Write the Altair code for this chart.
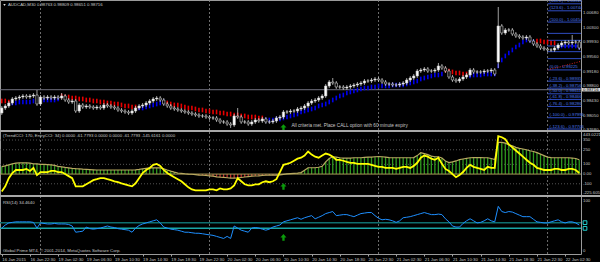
import altair as alt
import pandas as pd

# ---------------- data ----------------
x_labels = ["16 Jan 2015", "16 Jan 22:30", "19 Jan 02:30", "19 Jan 06:30", "19 Jan 10:30",
            "19 Jan 14:30", "19 Jan 18:30", "19 Jan 22:30", "20 Jan 02:30", "20 Jan 06:30",
            "20 Jan 10:30", "20 Jan 14:30", "20 Jan 18:30", "20 Jan 22:30", "21 Jan 02:30",
            "21 Jan 06:30", "21 Jan 10:30", "21 Jan 14:30", "21 Jan 18:30", "21 Jan 22:30",
            "22 Jan 02:30"]

closes = [
    0.98246, 0.98298, 0.98375, 0.98478, 0.98503, 0.98529, 0.98555, 0.98529, 0.98555, 0.98580,
    0.98349, 0.98529, 0.98503, 0.98529, 0.98503, 0.98529, 0.98503, 0.98555, 0.98452, 0.98401,
    0.98426, 0.98169, 0.98324, 0.98272, 0.98298, 0.98272, 0.98246, 0.98272, 0.98246, 0.98324,
    0.98298, 0.98272, 0.98246, 0.98195, 0.98169, 0.98144, 0.98118, 0.98169, 0.98246, 0.98298,
    0.98324, 0.98375, 0.98426, 0.98478, 0.98503, 0.98452, 0.98349, 0.98298, 0.98246, 0.98221,
    0.98195, 0.98169, 0.98144, 0.98118, 0.98092, 0.98067, 0.98041, 0.98041, 0.98015, 0.97990,
    0.97990, 0.97938, 0.97887, 0.97887, 0.97836, 0.97810, 0.98041, 0.98015, 0.97887, 0.97887,
    0.97836, 0.97887, 0.97938, 0.97913, 0.97964, 0.97887, 0.97887, 0.97913, 0.97990, 0.98015,
    0.98144, 0.98144, 0.98169, 0.98169, 0.98221, 0.98246, 0.98298, 0.98375, 0.98426, 0.98452,
    0.98503, 0.98555, 0.98812, 0.98915, 0.98889, 0.98786, 0.98786, 0.98760, 0.98786, 0.98812,
    0.98837, 0.98863, 0.98889, 0.98940, 0.98940, 0.98966, 0.98992, 0.98966, 0.98915, 0.98863,
    0.98863, 0.98837, 0.98837, 0.98863, 0.98889, 0.98966, 0.99017, 0.99069, 0.99197, 0.99223,
    0.99249, 0.99197, 0.99197, 0.99223, 0.99326, 0.99274, 0.99197, 0.99043, 0.98966, 0.98940,
    0.98992, 0.99043, 0.99095, 0.99223, 0.99172, 0.99172, 0.99172, 0.99197, 0.99197, 0.99223,
    0.99120, 1.00354, 1.00174, 1.00251, 1.00251, 1.00148, 1.00097, 1.00071, 1.00045, 1.00071,
    0.99968, 0.99891, 0.99840, 0.99788, 0.99763, 0.99737, 0.99737, 0.99788, 0.99865, 0.99917,
    0.99943, 0.99917, 0.99943, 0.99943, 0.99788]
first_open = 0.98118
open_override = {141: 0.99429}
high_override = {10: 0.98709, 17: 0.98632, 67: 0.98246, 94: 0.99017, 124: 0.99403,
                 141: 1.00842, 162: 1.00122}
low_override = {65: 0.97733, 141: 0.99274}

dots = [
    0.98426, 0.98426, 0.98401,
    0.98375, 0.98375, 0.98401, 0.98401, 0.98401, 0.98401, 0.98426, 0.98426, 0.98426, 0.98452,
    0.98452, 0.98452, 0.98452, 0.98478,
    0.98555, 0.98529, 0.98529, 0.98503, 0.98503, 0.98478, 0.98478, 0.98452, 0.98452, 0.98426,
    0.98426, 0.98401, 0.98401, 0.98375, 0.98375, 0.98349, 0.98349, 0.98324, 0.98298, 0.98298,
    0.98272, 0.98272,
    0.98246, 0.98246, 0.98272, 0.98298, 0.98324, 0.98349, 0.98375, 0.98401,
    0.98375, 0.98349, 0.98324, 0.98324, 0.98298, 0.98272, 0.98246, 0.98246, 0.98221, 0.98195,
    0.98195, 0.98169, 0.98169, 0.98144, 0.98144, 0.98118, 0.98118, 0.98092, 0.98092, 0.98067,
    0.98067, 0.98041, 0.98041, 0.98015, 0.98015, 0.98015, 0.97990, 0.97990,
    0.97938, 0.97938, 0.97938, 0.97964, 0.97964, 0.97990, 0.98015, 0.98041, 0.98067, 0.98092,
    0.98144, 0.98169, 0.98195, 0.98221, 0.98246, 0.98298, 0.98324, 0.98349, 0.98401, 0.98452,
    0.98503, 0.98555, 0.98580, 0.98632, 0.98658, 0.98683, 0.98709, 0.98735, 0.98760, 0.98760,
    0.98786, 0.98786, 0.98812, 0.98812, 0.98812, 0.98812, 0.98837, 0.98837, 0.98837, 0.98837,
    0.98863, 0.98889, 0.98915, 0.98940, 0.98992, 0.99017, 0.99043, 0.99069, 0.99095, 0.99095,
    0.99120,
    0.99223, 0.99197, 0.99172, 0.99146, 0.99146, 0.99120, 0.99120,
    0.99069, 0.99095, 0.99095, 0.99095, 0.99120, 0.99120, 0.99120, 0.99120,
    0.99326, 0.99480, 0.99583, 0.99660, 0.99737, 0.99814, 0.99865, 0.99943, 0.99994, 0.99994,
    0.99943,
    0.99968, 0.99968, 0.99943, 0.99943, 0.99917, 0.99917,
    0.99814, 0.99840, 0.99840, 0.99840, 0.99840, 0.99840, 0.99814]
dot_segments = [(0, "red"), (3, "blue"), (17, "red"), (39, "blue"), (47, "red"),
                (75, "blue"), (126, "red"), (133, "blue"), (152, "red"), (158, "blue")]

cci_trend = [
    77, 85, 95, 105, 112, 115, 116, 116, 112, 105,
    105, 100, 100, 98, 95, 90, 80, 74, 68, 63,
    58, 55, 53, 50, 48, 46, 44, 42, 42, 42,
    42, 42, 42, 42, 42, 42, 42, 42, 44, 48,
    53, 58, 63, 63, 63, 63, 55, 42, 30, 20,
    11, 7, 3, 0, -2, -5, -10, -12, -15, -18,
    -22, -28, -32, -35, -38, -42, -42, -40, -35, -30,
    -26, -22, -20, -18, -15, -12, -11, -11, -11, -8,
    -3, 2, 5, 8, 10, 15, 40, 65, 65, 65,
    70, 80, 125, 160, 178, 175, 168, 165, 165, 165,
    168, 168, 168, 172, 175, 175, 178, 180, 178, 175,
    170, 168, 168, 168, 168, 168, 168, 170, 190, 220,
    210, 200, 185, 178, 178, 165, 135, 118, 126, 135,
    148, 155, 162, 168, 170, 170, 170, 168, 168, 160,
    150, 325, 325, 318, 300, 290, 275, 265, 258, 250,
    240, 232, 220, 205, 190, 175, 170, 168, 168, 168,
    168, 168, 165, 160, 147]

cci_entry = [
    -179, -126, -42, 11, 42, 42, 42, 53, 32, 63,
    -11, 21, 21, 21, 32, 32, 21, 21, 0, -21,
    -42, -126, -126, -126, -105, -84, -63, -53, -42, -42,
    -53, -63, -74, -84, -95, -105, -116, -126, -95, -42,
    11, 42, 63, 95, 105, 84, 42, 11, -11, -32,
    -53, -74, -105, -137, -158, -168, -168, -168, -168, -158,
    -158, -168, -147, -158, -158, -147, -116, -42, -74, -105,
    -116, -116, -105, -105, -84, -74, -84, -74, -53, 21,
    95, 105, 116, 137, 158, 168, 190, 232, 200, 179,
    168, 190, 211, 200, 179, 147, 147, 137, 126, 116,
    116, 105, 105, 105, 105, 95, 84, 74, 74, 63,
    63, 63, 53, 63, 74, 74, 63, 84, 116, 168,
    190, 179, 158, 147, 168, 105, 53, 32, 0, -32,
    -11, 21, 63, 95, 74, 63, 53, 42, 74, 63,
    63, 390, 379, 358, 305, 274, 242, 211, 179, 147,
    116, 95, 63, 53, 42, 42, 42, 53, 53, 42,
    42, 53, 53, 42, 11]

rsi = [
    45.5, 50.9, 54.5, 55.5, 56.4, 56.4, 56.4, 56.4, 56.4, 55.5,
    45.5, 54.5, 53.6, 52.7, 52.7, 53.6, 52.7, 52.7, 52.7, 51.8,
    49.1, 38.2, 39.1, 40.0, 47.3, 44.5, 43.6, 44.5, 45.5, 47.3,
    49.1, 47.3, 46.4, 44.5, 43.6, 42.7, 41.8, 38.2, 45.5, 50.0,
    52.7, 54.5, 56.4, 58.2, 60.0, 54.5, 47.3, 45.5, 43.6, 42.7,
    41.8, 40.0, 38.2, 38.2, 37.3, 36.4, 36.4, 35.5, 34.5, 33.6,
    32.7, 30.9, 29.1, 27.3, 30.9, 27.3, 49.1, 45.5, 41.8, 40.0,
    38.2, 45.5, 46.4, 45.5, 43.6, 41.8, 43.6, 47.3, 49.1, 50.9,
    56.4, 58.2, 60.0, 61.8, 63.6, 60.9, 63.6, 65.5, 67.3, 61.8,
    64.5, 67.3, 70.9, 72.7, 74.5, 67.3, 68.2, 69.1, 69.1, 67.3,
    65.5, 68.2, 70.9, 71.8, 72.7, 72.7, 67.3, 62.7, 60.0, 60.9,
    60.0, 58.2, 55.5, 58.2, 63.6, 64.5, 65.5, 67.3, 69.1, 70.9,
    72.7, 70.9, 69.1, 69.1, 70.0, 69.1, 61.8, 56.4, 49.1, 47.3,
    47.3, 53.6, 58.2, 61.8, 58.2, 54.5, 55.5, 58.2, 61.8, 58.2,
    56.4, 83.6, 74.5, 72.7, 74.5, 73.6, 70.9, 68.2, 65.5, 65.5,
    65.5, 60.9, 56.4, 55.5, 54.5, 54.5, 56.4, 58.2, 60.0, 56.4,
    54.5, 56.4, 56.4, 54.5, 50.9]

price_ticks = [1.00680, 1.00300, 0.99930, 0.99560, 0.99180, 0.98800, 0.98430, 0.98050, 0.97680]
current_price = 0.98716
day_starts = [11, 59, 107, 155]

fib_levels = [138.2, 123.6, 100.0, 76.4, 61.8, 50.0, 38.2, 23.6, 0.0,
              -23.6, -38.2, -50.0, -61.8, -76.4, -100.0, -123.6]
fib_prices = [1.00924, 1.00744, 1.00454, 1.00164, 0.99985, 0.99840, 0.99694, 0.99515, 0.99225,
              0.98935, 0.98756, 0.98611, 0.98466, 0.98286, 0.97996, 0.97706]
fib_labeled = [138.2, 123.6, 100.0, 0.0, -23.6, -38.2, -50.0, -61.8, -76.4, -100.0, -123.6]
fib_start, fib_end = 155, 164.5
fib_trend = [(155, 0.99223), (164.5, 0.99447)]

cci_levels = [350, 250, 100, -100]
cci_labels = [("350", 350), ("250", 250), ("100", 100), ("0.00", 0), ("-100", -100)]
cci_max, cci_min = 443.0221, -225.6055
rsi_levels = [55, 45]

signal_bar = 80
signal_price = 0.97745
signal_cci = -128
signal_rsi = 29

title_txt = "AUDCAD,M30  0.98763 0.98809 0.98651 0.98716"
signal_txt = "All criteria met. Place CALL option with 60 minute expiry"
cci_txt = "(TrendCCI: 170, EntryCCI: 34) 0.0000 -61.7793 0.0000 0.0000 -61.7793 -145.6161 0.0000"
rsi_txt = "RSI(14) 34.4640"
copy_txt = "Global Prime MT4, \u00a9 2001-2014, MetaQuotes Software Corp."

# ---------------- tables ----------------
N = len(closes)
opens = [first_open] + closes[:-1]
for k, v in open_override.items():
    opens[k] = v
highs = [high_override.get(k, max(opens[k], closes[k]) + 0.0005) for k in range(N)]
lows = [low_override.get(k, min(opens[k], closes[k]) - 0.0005) for k in range(N)]
dot_col = []
for k in range(N):
    c = None
    for s, col in dot_segments:
        if k >= s:
            c = col
    dot_col.append("#0000f0" if c == "blue" else "#e80000")

bars = pd.DataFrame({
    "i": list(range(N)), "o": opens, "c": closes, "h": highs, "l": lows,
    "dot": dots, "dotc": dot_col, "ct": cci_trend, "ce": cci_entry, "rsi": rsi,
})
bars["xl"] = bars["i"] - 0.33
bars["xr"] = bars["i"] + 0.33
bars["top"] = bars[["o", "c"]].max(axis=1)
bars["bot"] = bars[["o", "c"]].min(axis=1)
bars["fill"] = ["#ffffff" if c > o else "#000000" for o, c in zip(opens, closes)]
bars["dlo"] = bars["dot"] - 0.0006
bars["dhi"] = bars["dot"] + 0.0006
bars["zero"] = 0
bars["hcol"] = ["#2f9a1f" if v >= 0 else "#c03030" for v in cci_trend]

W, H = 581, 254
FONT = "Liberation Sans, Arial"
FS = 4.3
TXT = "#c8c8c8"

label_expr = "[" + ",".join("'" + s + "'" for s in x_labels) + "][round(datum.value/8)]"
xscale = alt.Scale(domain=[-0.5, 164.5], nice=False, zero=False)
xaxis = alt.Axis(values=list(range(0, 161, 8)), labelExpr=label_expr, labelFontSize=FS,
                 labelFont=FONT, labelColor=TXT, labelAlign="left", labelBaseline="top",
                 labelPadding=1, labelOverlap=False, labelFlush=False, labelBound=False,
                 tickSize=2, tickColor="#a0a0a0", domain=False, grid=False, title=None)


def X(field="i"):
    return alt.X(field + ":Q", scale=xscale, axis=xaxis)


def X2(field):
    return alt.X2(field + ":Q")


pscale = alt.Scale(domain=[0.97655, 1.00996], range=[131, 1], nice=False, zero=False)
cscale = alt.Scale(domain=[cci_min, cci_max], range=[196, 131], nice=False, zero=False)
rscale = alt.Scale(domain=[0, 100], range=[254, 197], nice=False, zero=False)


def Y(field, sc):
    return alt.Y(field + ":Q", scale=sc, axis=None)


def text_mark(**kw):
    base = dict(fontSize=FS, font=FONT, color=TXT, align="left", baseline="middle")
    base.update(kw)
    return base


layers = []

# day separators
sep = pd.DataFrame({"i": day_starts})
layers.append(alt.Chart(sep).mark_rule(color="#8a8a8a", strokeDash=[2, 2], strokeWidth=0.8)
              .encode(x=X(), y=alt.value(0), y2=alt.value(H)))

# ---------- price panel ----------
cp = pd.DataFrame({"p": [current_price]})
layers.append(alt.Chart(cp).mark_rule(color="#70707e", strokeWidth=1)
              .encode(y=Y("p", pscale), x=alt.value(0), x2=alt.value(W)))

fib = pd.DataFrame({"lvl": fib_levels, "p": fib_prices})
fib["xs"] = fib_start
fib["xe"] = fib_end
fib["txt"] = ["(%.1f) - %.5f" % (a, b) for a, b in zip(fib_levels, fib_prices)]
layers.append(alt.Chart(fib).mark_rule(color="#3456d8", strokeWidth=0.9)
              .encode(x=X("xs"), x2=X2("xe"), y=Y("p", pscale)))
fibl = fib[fib["lvl"].isin(fib_labeled)]
layers.append(alt.Chart(fibl).mark_text(**text_mark(baseline="bottom", dx=2, dy=-0.5,
                                                    color="#4a78e8"))
              .encode(x=X("xs"), y=Y("p", pscale), text="txt:N"))
ft = pd.DataFrame({"i": [fib_trend[0][0]], "i2": [fib_trend[1][0]],
                   "p": [fib_trend[0][1]], "p2": [fib_trend[1][1]]})
layers.append(alt.Chart(ft).mark_rule(color="#d02020", strokeDash=[1, 1.5], strokeWidth=1)
              .encode(x=X(), x2=X2("i2"), y=Y("p", pscale), y2=alt.Y2("p2:Q")))

# indicator dots
layers.append(alt.Chart(bars).mark_rule(strokeWidth=1.6)
              .encode(x=X(), y=Y("dlo", pscale), y2=alt.Y2("dhi:Q"),
                      color=alt.Color("dotc:N", scale=None)))
# candles
layers.append(alt.Chart(bars).mark_rule(color="#c8c8c8", strokeWidth=0.8)
              .encode(x=X(), y=Y("l", pscale), y2=alt.Y2("h:Q")))
layers.append(alt.Chart(bars).mark_rect(stroke="#d0d0d0", strokeWidth=0.6)
              .encode(x=X("xl"), x2=X2("xr"), y=Y("bot", pscale), y2=alt.Y2("top:Q"),
                      fill=alt.Fill("fill:N", scale=None)))

# right price labels
pt = pd.DataFrame({"p": price_ticks})
pt["t"] = ["%.5f" % v for v in price_ticks]
layers.append(alt.Chart(pt).mark_text(**text_mark())
              .encode(x=alt.value(W + 2), y=Y("p", pscale), text="t:N"))
cpb = pd.DataFrame({"p": [current_price + 0.00045], "p2": [current_price - 0.00045]})
layers.append(alt.Chart(cpb).mark_rect(color="#d8d8d8")
              .encode(x=alt.value(W + 1), x2=alt.value(600), y=Y("p", pscale), y2=alt.Y2("p2:Q")))
cpt = pd.DataFrame({"p": [current_price], "t": ["%.5f" % current_price]})
layers.append(alt.Chart(cpt).mark_text(**text_mark(color="#000000"))
              .encode(x=alt.value(W + 2), y=Y("p", pscale), text="t:N"))

# signal arrow + text
ARROW = "M0,-1L0.9,0L0.35,0L0.35,1L-0.35,1L-0.35,0L-0.9,0Z"
sig = pd.DataFrame({"i": [signal_bar], "p": [signal_price], "cc": [signal_cci],
                    "r": [signal_rsi], "t": [signal_txt]})
layers.append(alt.Chart(sig).mark_point(shape=ARROW, filled=True, size=45, color="#0b9a0b",
                                        opacity=1)
              .encode(x=X(), y=Y("p", pscale)))
layers.append(alt.Chart(sig).mark_text(**text_mark(dx=8, dy=-1.5, fontSize=4.7))
              .encode(x=X(), y=Y("p", pscale), text="t:N"))

# ---------- CCI panel ----------
cl = pd.DataFrame({"v": cci_levels})
layers.append(alt.Chart(cl).mark_rule(color="#6a6a6a", strokeDash=[1, 2], strokeWidth=0.8)
              .encode(y=Y("v", cscale), x=alt.value(0), x2=alt.value(W)))
layers.append(alt.Chart(bars).mark_rule(strokeWidth=1.3)
              .encode(x=X(), y=Y("zero", cscale), y2=alt.Y2("ct:Q"),
                      color=alt.Color("hcol:N", scale=None)))
z0 = pd.DataFrame({"v": [0]})
layers.append(alt.Chart(z0).mark_rule(color="#a89a58", strokeWidth=1)
              .encode(y=Y("v", cscale), x=alt.value(0), x2=alt.value(W)))
layers.append(alt.Chart(bars).mark_line(color="#b8a860", strokeWidth=1.2)
              .encode(x=X(), y=Y("ct", cscale)))
layers.append(alt.Chart(bars).mark_line(color="#ffff00", strokeWidth=1.8)
              .encode(x=X(), y=Y("ce", cscale)))
layers.append(alt.Chart(sig).mark_point(shape=ARROW, filled=True, size=45, color="#0b9a0b",
                                        opacity=1)
              .encode(x=X(), y=Y("cc", cscale)))
clab = pd.DataFrame({"t": [a for a, b in cci_labels], "v": [b for a, b in cci_labels]})
layers.append(alt.Chart(clab).mark_text(**text_mark())
              .encode(x=alt.value(W + 2), y=Y("v", cscale), text="t:N"))
ctop = pd.DataFrame({"v": [cci_max], "t": ["%.4f" % cci_max]})
layers.append(alt.Chart(ctop).mark_text(**text_mark(baseline="top", dy=1.5))
              .encode(x=alt.value(W + 2), y=Y("v", cscale), text="t:N"))
cbot = pd.DataFrame({"v": [cci_min], "t": ["%.4f" % cci_min]})
layers.append(alt.Chart(cbot).mark_text(**text_mark(baseline="bottom", dy=-1))
              .encode(x=alt.value(W + 2), y=Y("v", cscale), text="t:N"))

# ---------- RSI panel ----------
rl = pd.DataFrame({"v": rsi_levels, "col": ["#0f6e6e", "#1aa6a6"]})
layers.append(alt.Chart(rl).mark_rule(strokeWidth=1.5)
              .encode(y=Y("v", rscale), x=alt.value(0), x2=alt.value(W),
                      color=alt.Color("col:N", scale=None)))
layers.append(alt.Chart(bars).mark_line(color="#1e8fff", strokeWidth=1)
              .encode(x=X(), y=Y("rsi", rscale)))
layers.append(alt.Chart(sig).mark_point(shape=ARROW, filled=True, size=45, color="#0b9a0b",
                                        opacity=1)
              .encode(x=X(), y=Y("r", rscale)))
layers.append(alt.Chart(rl).mark_point(shape="square", filled=False, size=14, color="#20d0d0",
                                       strokeWidth=1, opacity=1)
              .encode(x=alt.value(W + 4), y=Y("v", rscale)))
rtop = pd.DataFrame({"v": [100], "t": ["100"]})
layers.append(alt.Chart(rtop).mark_text(**text_mark(baseline="top", dy=1.5))
              .encode(x=alt.value(W + 2), y=Y("v", rscale), text="t:N"))
rbot = pd.DataFrame({"v": [0], "t": ["0"]})
layers.append(alt.Chart(rbot).mark_text(**text_mark(baseline="bottom", dy=-1))
              .encode(x=alt.value(W + 2), y=Y("v", rscale), text="t:N"))

# ---------- panel dividers & header texts ----------
div = pd.DataFrame({"k": [0]})
layers.append(alt.Chart(div).mark_rule(color="#a8a8a8", strokeWidth=2)
              .encode(y=alt.value(131), x=alt.value(0), x2=alt.value(600)))
layers.append(alt.Chart(div).mark_rule(color="#a8a8a8", strokeWidth=2)
              .encode(y=alt.value(196), x=alt.value(0), x2=alt.value(600)))

hdr_texts = [title_txt, cci_txt, rsi_txt, copy_txt]
hdr_rows = [5, 136, 203, 250.5]
for t, yy in zip(hdr_texts, hdr_rows):
    layers.append(alt.Chart(pd.DataFrame({"t": [t]}))
                  .mark_text(**text_mark())
                  .encode(x=alt.value(3 if yy > 10 else 8), y=alt.value(yy), text="t:N"))
# small chart-menu triangle before the symbol name
layers.append(alt.Chart(pd.DataFrame({"k": [0]}))
              .mark_point(shape="triangle-down", filled=True, size=6, color="#e0e0e0", opacity=1)
              .encode(x=alt.value(4.5), y=alt.value(5)))

chart = (alt.layer(*layers)
         .resolve_scale(y="independent")
         .properties(width=W, height=H, background="#000000",
                     padding={"left": 0, "top": 0, "right": 19, "bottom": 8},
                     autosize=alt.AutoSizeParams(type="none"))
         .configure_view(stroke="#9a9a9a", strokeWidth=1))

chart.save("out.html", embed_options={"renderer": "svg", "actions": False})
